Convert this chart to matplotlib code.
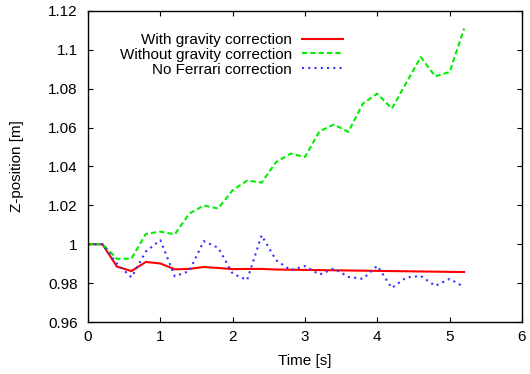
import matplotlib
matplotlib.use("Agg")
import matplotlib.pyplot as plt

# time axis [s]
time = [0.0, 0.2, 0.4, 0.6, 0.8, 1.0, 1.2, 1.4, 1.6, 1.8, 2.0, 2.2, 2.4, 2.6,
        2.8, 3.0, 3.2, 3.4, 3.6, 3.8, 4.0, 4.2, 4.4, 4.6, 4.8, 5.0, 5.2]

# z-position [m]
with_gravity = [1.0, 1.0, 0.9885, 0.9862, 0.9909, 0.9901, 0.9871, 0.9873, 0.9883,
                0.9878, 0.9872, 0.9873, 0.9873, 0.9870, 0.9869, 0.9868, 0.9867,
                0.9866, 0.9865, 0.9864, 0.9863, 0.9862, 0.9861, 0.9860, 0.9859,
                0.9858, 0.9857]
without_gravity = [1.0, 1.0, 0.9925, 0.9926, 1.0053, 1.0065, 1.0051, 1.0158, 1.0199,
                   1.0184, 1.0278, 1.0328, 1.0317, 1.0423, 1.0466, 1.0449, 1.0581,
                   1.0616, 1.0578, 1.0724, 1.0775, 1.0698, 1.0830, 1.0963, 1.0864,
                   1.0886, 1.1110]
no_ferrari = [1.0, 1.0, 0.9900, 0.9830, 0.9963, 1.0021, 0.9835, 0.9862, 1.0016,
              0.9982, 0.9849, 0.9816, 1.0046, 0.9918, 0.9867, 0.9888, 0.9844,
              0.9875, 0.9832, 0.9822, 0.9889, 0.9775, 0.9829, 0.9837, 0.9786,
              0.9822, 0.9780]

xticks = [0, 1, 2, 3, 4, 5, 6]
yticks = [0.96, 0.98, 1.0, 1.02, 1.04, 1.06, 1.08, 1.1, 1.12]
ytick_labels = ["0.96", "0.98", "1", "1.02", "1.04", "1.06", "1.08", "1.1", "1.12"]

plt.rcParams['font.family'] = ['Liberation Sans', 'DejaVu Sans']
plt.rcParams['font.size'] = 11

fig = plt.figure(figsize=(5.30, 3.74), dpi=100)
ax = fig.add_axes([88 / 530, 1 - 322 / 374, (522 - 88) / 530, (322 - 11) / 374])

ax.plot(time, with_gravity, color='#ff0000', lw=1.5, label='With gravity correction')
ax.plot(time, without_gravity, color='#00ee00', lw=1.5, ls=(0, (2.5, 1.5)),
        label='Without gravity correction')
ax.plot(time, no_ferrari, color='#3333ff', lw=1.5, ls=(0, (1, 2)),
        label='No Ferrari correction')

ax.set_xlim(0, 6)
ax.set_ylim(0.96, 1.12)
ax.set_xticks(xticks)
ax.set_yticks(yticks)
ax.set_yticklabels(ytick_labels)
ax.tick_params(direction='in', top=True, right=True, length=3.5, width=0.8)
ax.tick_params(axis='x', pad=6)
ax.tick_params(axis='y', pad=7.5)
for s in ax.spines.values():
    s.set_linewidth(1.0)

ax.set_xlabel('Time [s]', labelpad=7)
ax.set_ylabel('Z-position [m]', labelpad=17)

ax.legend(loc='upper right', bbox_to_anchor=(343 / 530, 1 - 33 / 374),
          bbox_transform=fig.transFigure, frameon=False, markerfirst=False,
          handlelength=2.7, handletextpad=0.65, labelspacing=0.05,
          borderpad=0, borderaxespad=0)

fig.savefig('out.png', dpi=100)
